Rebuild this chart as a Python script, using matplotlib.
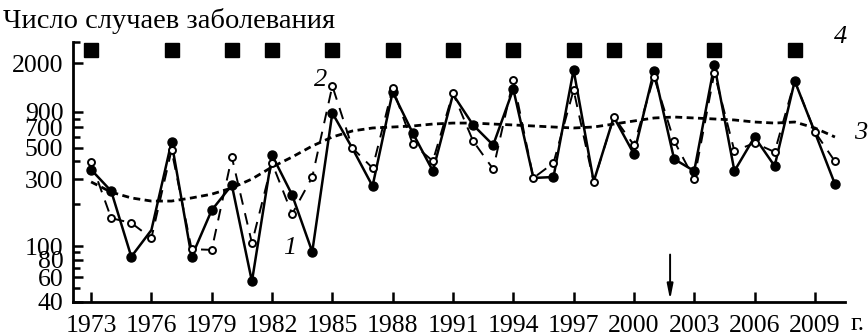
import numpy as np
import matplotlib
matplotlib.use("Agg")
import matplotlib.pyplot as plt
from matplotlib.ticker import FixedLocator, FixedFormatter, NullFormatter

# --- data --------------------------------------------------------------
years = np.arange(1973, 2011)

# 1 — observed cases (solid line, filled dots)
cases_obs = [350, 246, 84, 130, 550, 84, 180, 272, 56, 444,
             231, 91, 885, 495, 267, 1248, 637, 342, 1200, 727,
             523, 1310, 305, 310, 1790, 288, 828, 452, 1760, 416,
             342, 1942, 342, 597, 371, 1494, 645, 276]

# 2 — model (dashed line, open circles)
cases_model = [396, 158, 146, 114, 482, 95, 94, 430, 105, 390,
               169, 310, 1377, 498, 359, 1333, 532, 403, 1227, 559,
               353, 1519, 305, 390, 1289, 286, 828, 523, 1595, 559,
               300, 1703, 474, 541, 467, 1494, 650, 400]

# 3 — long-term trend (dotted)
trend = [286, 242, 220, 209, 209, 220, 234, 259, 300, 365,
         430, 515, 597, 659, 692, 703, 715, 738, 750, 750,
         738, 727, 715, 703, 692, 703, 738, 776, 815, 828,
         815, 802, 789, 763, 750, 763, 692, 597]

# 4 — epidemic years (squares at the top)
epidemic_years = [1973, 1977, 1980, 1982, 1985, 1988, 1991, 1994,
                  1997, 1999, 2001, 2004, 2008]

obs_no_dot = [1976, 1986, 1991, 1995, 1998, 1999, 2009]
model_no_dot = [2008]
arrow_year = 2001.8

ytick_major = [40, 60, 80, 100, 300, 500, 700, 900, 2000]
ytick_minor = [50, 70, 90, 200, 400, 600, 800, 2830]
xtick_years = [1973, 1976, 1979, 1982, 1985, 1988, 1991, 1994,
               1997, 2000, 2003, 2006, 2009]

plt.rcParams["font.family"] = ["Liberation Serif", "DejaVu Serif"]
FS = 18.5

fig = plt.figure(figsize=(8.68, 3.36), dpi=100)
ax = fig.add_axes([73 / 868, 34 / 336, 772 / 868, 260 / 336])

ax.set_yscale("log")
ax.set_ylim(40, 2830)
ax.set_xlim(1972.1, 2010.5)

ax.plot(years, trend, color="black", lw=2.0, ls=(0, (2.5, 1.6)), zorder=2)

dot_idx = [i for i, y in enumerate(years) if y not in obs_no_dot]
ax.plot(years, cases_obs, color="black", lw=1.8, marker="o", ms=6.5,
        markevery=dot_idx, zorder=3)

open_idx = [i for i, y in enumerate(years) if y not in model_no_dot]
ax.plot(years, cases_model, color="black", lw=1.4, ls=(0, (6, 4.5)),
        marker="o", ms=5, mfc="white", mec="black", mew=1.4,
        markevery=open_idx, zorder=4)

ax.plot(epidemic_years, [2480] * len(epidemic_years), ls="none",
        marker="s", ms=9.5, color="black", zorder=5, clip_on=False)

ax.annotate("", xy=(arrow_year, 41.5), xytext=(arrow_year, 87),
            arrowprops=dict(arrowstyle="-|>,head_length=0.9,head_width=0.18",
                            color="black", lw=1.4, shrinkA=0, shrinkB=0))

# curve labels
lab = dict(fontsize=19, style="italic", ha="center", va="center")
ax.text(1982.9, 97, "1", **lab)
ax.text(1984.4, 1530, "2", **lab)
ax.text(2011.3, 640, "3", clip_on=False, **lab)
ax.text(2010.3, 3050, "4", clip_on=False, **lab)

# axes styling
for side in ("top", "right"):
    ax.spines[side].set_visible(False)
for side in ("left", "bottom"):
    ax.spines[side].set_linewidth(2.0)

ax.yaxis.set_major_locator(FixedLocator(ytick_major))
ax.yaxis.set_major_formatter(FixedFormatter([str(v) for v in ytick_major]))
ax.yaxis.set_minor_locator(FixedLocator(ytick_minor))
ax.yaxis.set_minor_formatter(NullFormatter())
ax.tick_params(axis="y", which="major", direction="in", length=7, width=1.8,
               labelsize=FS, pad=7)
ax.tick_params(axis="y", which="minor", direction="in", length=5, width=1.8)

ax.set_xticks(xtick_years)
ax.set_xticklabels([str(y) for y in xtick_years])
ax.tick_params(axis="x", which="major", direction="in", length=7.5, width=1.8,
               labelsize=FS, pad=9)
ax.tick_params(axis="x", which="minor", bottom=False)

fig.text(851 / 868, 1 - 324 / 336, "г.", fontsize=FS, ha="left", va="center")
fig.text(3 / 868, 1 - 21 / 336, "Число случаев заболевания", fontsize=20.5,
         ha="left", va="center")

fig.savefig("out.png", dpi=100)
